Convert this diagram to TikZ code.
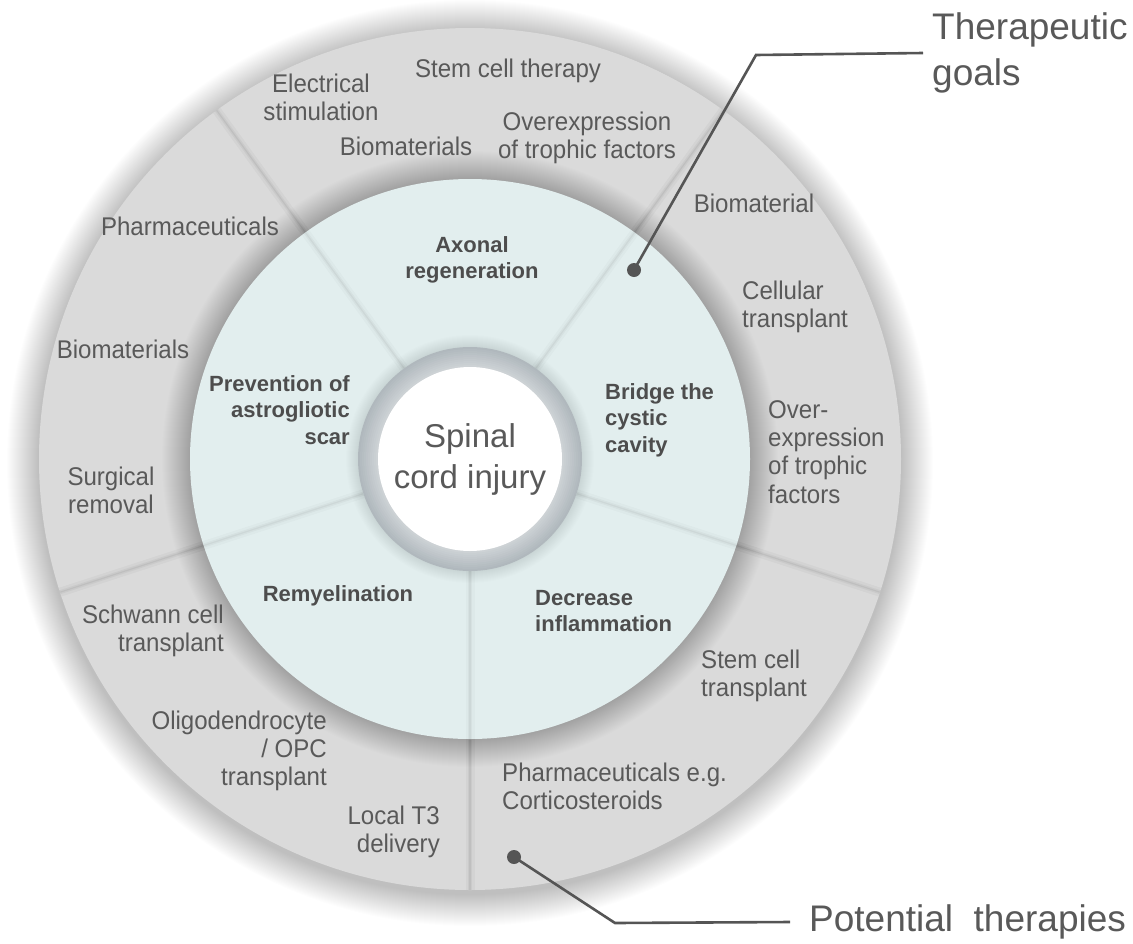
\documentclass[tikz,border=0pt]{standalone}
\usepackage{fontspec}
\setmainfont{Liberation Sans}
\newfontfamily\ringfont{Liberation Sans}[FakeStretch=0.94]
\usetikzlibrary{positioning}
\definecolor{ringgray}{RGB}{218,218,218}
\definecolor{goalcyan}{RGB}{226,238,238}
\definecolor{hubgray}{RGB}{176,184,189}
\definecolor{txtgray}{RGB}{89,89,89}
\definecolor{goaltxt}{RGB}{77,77,77}
\definecolor{leadgray}{RGB}{85,85,85}
\tikzset{
    therapy/.style={
           inner sep=0pt,
           text=txtgray,
           font=\ringfont\fontsize{25.6}{28.3}\selectfont,
           },
    goal/.style={
           inner sep=0pt,
           text=goaltxt,
           font=\fontsize{22}{26.5}\selectfont\bfseries,
           },
    callout/.style={
           inner sep=0pt,
           text=txtgray,
           anchor=west, align=left,
           font=\fontsize{37}{46}\selectfont,
           },
    leader/.style={leadgray, line width=2.6pt},
    dot/.style={circle, fill=leadgray, inner sep=0pt, minimum size=14pt},
}

\begin{document}
\begin{tikzpicture}[x=1pt,y=-1pt]
\useasboundingbox (0,0) rectangle (1133,943);
\coordinate (c) at (470,459);
% soft shadow round the outer ring
\foreach \k in {1,...,32}
    \fill[black, opacity=.009] (470,463) circle ({431pt+\k*1pt});
\fill[ringgray] (c) circle (431pt);
\begin{scope}[shift={(c)}]
% sector borders, outer ring
\foreach \a in {54,126,198,270,342} {
    \draw[black, opacity=.03, line width=9pt] (\a:280pt) -- (\a:431pt);
    \draw[black, opacity=.04, line width=4pt] (\a:280pt) -- (\a:431pt);
    \draw[black, opacity=.05, line width=1.2pt] (\a:280pt) -- (\a:431pt);
}
% shadow of the goal disc on the ring
\foreach \k in {1,...,28}
    \fill[black, opacity=.006] (0,0) circle ({280pt+\k*1pt});
\fill[goalcyan] (0,0) circle (280pt);
% sector borders, goal disc
\foreach \a in {54,126,198,270,342} {
    \draw[black, opacity=.02, line width=9pt] (\a:112pt) -- (\a:280pt);
    \draw[black, opacity=.03, line width=4pt] (\a:112pt) -- (\a:280pt);
    \draw[black, opacity=.04, line width=1.2pt] (\a:112pt) -- (\a:280pt);
}
% hub
\foreach \k in {1,...,12}
    \fill[black, opacity=.008] (0,0) circle ({112pt+\k*1pt});
\foreach \k [evaluate=\k as \pct using int(100-4*\k)] in {0,...,9}
    \fill[hubgray!\pct!white] (0,0) circle ({112pt-2*\k*1pt});
\fill[white] (0,0) circle (92pt);
\end{scope}

% potential therapies
\node[therapy, align=center] (elec) at (321,97) {Electrical\\stimulation};
\node[therapy] (stemtop) at (508,71) {Stem cell therapy};
\node[therapy] (biotop) at (406,146) {Biomaterials};
\node[therapy, align=center] (overtop) at (587,138) {Overexpression\\of trophic factors};
\node[therapy] (biomat) at (754,203) {Biomaterial};
\node[therapy, align=left, anchor=west] (cellular) at (742,307) {Cellular\\transplant};
\node[therapy, align=left, anchor=west] (overright) at (768,452) {Over-\\expression\\of trophic\\factors};
\node[therapy] (pharmleft) at (190,226) {Pharmaceuticals};
\node[therapy] (bioleft) at (123,349) {Biomaterials};
\node[therapy, align=center] (surgical) at (111,490) {Surgical\\removal};
\node[therapy, align=right, anchor=east] (schwann) at (224,631) {Schwann cell\\transplant};
\node[therapy, align=right, anchor=east] (oligo) at (327,751) {Oligodendrocyte\\/ OPC\\transplant};
\node[therapy, align=right, anchor=east] (localt3) at (440,832) {Local T3\\delivery};
\node[therapy, align=left, anchor=west] (stemtrans) at (701,676) {Stem cell\\transplant};
\node[therapy, align=left, anchor=west] (pharmbot) at (502,786) {Pharmaceuticals e.g.\\Corticosteroids};

% therapeutic goals
\node[goal, align=center] (axonal) at (472,260) {Axonal\\regeneration};
\node[goal, align=right, anchor=east] (prevention) at (350,410) {Prevention of\\astrogliotic\\scar};
\node[goal, align=left, anchor=west] (bridge) at (605,420) {Bridge the\\cystic\\cavity};
\node[goal] (remyel) at (338,596) {Remyelination};
\node[goal, align=left, anchor=west] (decrease) at (535,611) {Decrease\\inflammation};

\node[text=txtgray, align=center, font=\fontsize{33}{41}\selectfont] (sci) at (c) {Spinal\\cord injury};

% call-outs
\node[callout] (goalslbl) at (932,53) {Therapeutic\\goals};
\node[callout] (therlbl) at (809,922) {Potential\ \ therapies};
\node[dot] (goaldot) at (634,270) {};
\node[dot] (therdot) at (514,857) {};
\coordinate (goalbend) at (756,55);
\coordinate (therbend) at (615,923);
\draw[leader] (goaldot.center) -- (goalbend) -- ([xshift=-9pt]goalslbl.west);
\draw[leader] (therdot.center) -- (therbend) -- ([xshift=-19pt]therlbl.west);
\end{tikzpicture}
\end{document}
